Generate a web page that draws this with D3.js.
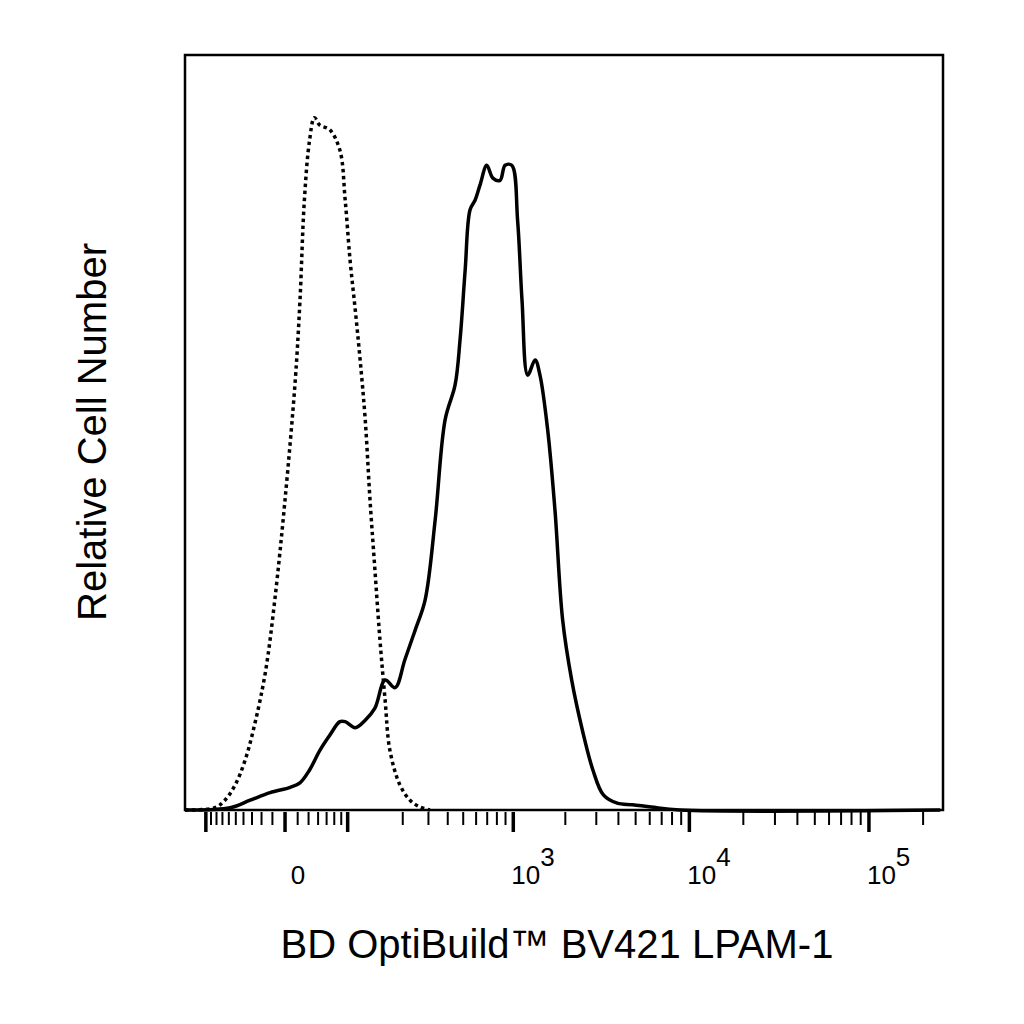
<!DOCTYPE html>
<html><head><meta charset="utf-8">
<script src="https://cdn.jsdelivr.net/npm/d3@7"></script>
<style>body{margin:0;background:#fff}</style>
</head><body>
<svg id="chart" width="1024" height="1024"></svg>
<script>
// Isotype control (dotted) and stained sample (solid): [fluorescence, relative count]
var controlX = [-148,-83,-66,-51,-38,-26,-16,-8,0,8,12,16,21,26,32,44,58,66,74,83,92,102,112,123,135,148,161,191,225,263,307];
var controlY = [0,0.3,1.3,3.3,6.6,11.9,18.5,27.8,41.1,57.0,67.5,80.8,88.7,91.7,90.7,90.1,87.4,80.8,72.8,66.2,59.6,51.7,41.1,31.8,22.5,14.6,7.9,3.3,1.3,0.4,0];
var stainX = [-148,-58,-32,-12,4,12,21,32,44,58,66,83,102,123,148,176,207,244,285,332,385,445,478,514,551,592,634,696,757,835,895,980,1060,1125,1215,1340,1430,1585,1745,1930,2175,2500,2870,3290,3940,4800,6110,8850,249000];
var stainY = [0,0.3,1.3,2.3,3.0,3.6,5.3,7.9,9.9,11.7,11.7,10.9,11.9,13.5,17.2,16.2,19.9,23.8,27.8,38.4,51.7,56.3,62.3,71.5,79.5,80.8,82.8,85.4,83.7,83.4,85.4,85.4,78.1,67.5,57.6,59.6,57.6,50.3,39.7,25.2,17.2,10.6,5.3,2.0,0.9,0.7,0.4,0,0];
var majorTicks = [-100,0,70,1000,10000,100000];
var tickLabels = [{v:0,base:"0",sup:""},{v:1000,base:"10",sup:"3"},{v:10000,base:"10",sup:"4"},{v:100000,base:"10",sup:"5"}];

var svg = d3.select('#chart');
var mLeft = 185, mRight = 943, mTop = 55, mBottom = 810;
var x = d3.scaleSymlog().constant(57).domain([-148, 258000]).range([mLeft, mRight]);
var y = d3.scaleLinear().domain([0, 100]).range([mBottom, mTop]);

// minor ticks
var minor = [];
for (var i = -90; i <= 60; i += 10) if (i !== 0) minor.push(i);
[100,1000,10000].forEach(function(d){ for (var k = 2; k <= 9; k++) minor.push(d*k); });
minor.push(200000);

var axisG = svg.append('g');
axisG.selectAll('.minor').data(minor).enter().append('line')
  .attr('x1', function(d){return x(d);}).attr('x2', function(d){return x(d);})
  .attr('y1', mBottom + 2).attr('y2', mBottom + 15)
  .attr('stroke', '#000').attr('stroke-width', 2);
axisG.selectAll('.major').data(majorTicks).enter().append('line')
  .attr('x1', function(d){return x(d);}).attr('x2', function(d){return x(d);})
  .attr('y1', mBottom + 2).attr('y2', mBottom + 22)
  .attr('stroke', '#000').attr('stroke-width', 3.5);

var lbl = axisG.selectAll('.lbl').data(tickLabels).enter().append('text')
  .attr('x', function(d){return d.sup ? x(d.v) - 2 : x(d.v) + 13;})
  .attr('y', 884)
  .attr('text-anchor', function(d){return d.sup ? 'start' : 'middle';})
  .attr('font-family', 'Liberation Sans, Arial, sans-serif').attr('font-size', 26);
lbl.append('tspan').text(function(d){return d.base;});
lbl.append('tspan').attr('dy', -18).text(function(d){return d.sup;});

var line = d3.line().x(function(d){return x(d[0]);}).y(function(d){return y(d[1]);}).curve(d3.curveCatmullRom);
svg.append('path').datum(d3.zip(controlX, controlY)).attr('d', line)
  .attr('fill', 'none').attr('stroke', '#000').attr('stroke-width', 3.5).attr('stroke-dasharray', '3.5,3.5');
svg.append('path').datum(d3.zip(stainX, stainY)).attr('d', line)
  .attr('fill', 'none').attr('stroke', '#000').attr('stroke-width', 3.5);

svg.append('rect').attr('x', mLeft).attr('y', mTop).attr('width', mRight - mLeft).attr('height', mBottom - mTop)
  .attr('fill', 'none').attr('stroke', '#000').attr('stroke-width', 2.5);

svg.append('text').attr('x', 557).attr('y', 958).attr('text-anchor', 'middle')
  .attr('font-family', 'Liberation Sans, Arial, sans-serif').attr('font-size', 40)
  .text('BD OptiBuild™ BV421 LPAM-1');
svg.append('text').attr('transform', 'translate(106,432) rotate(-90)').attr('text-anchor', 'middle')
  .attr('font-family', 'Liberation Sans, Arial, sans-serif').attr('font-size', 40)
  .text('Relative Cell Number');
</script>
</body></html>
